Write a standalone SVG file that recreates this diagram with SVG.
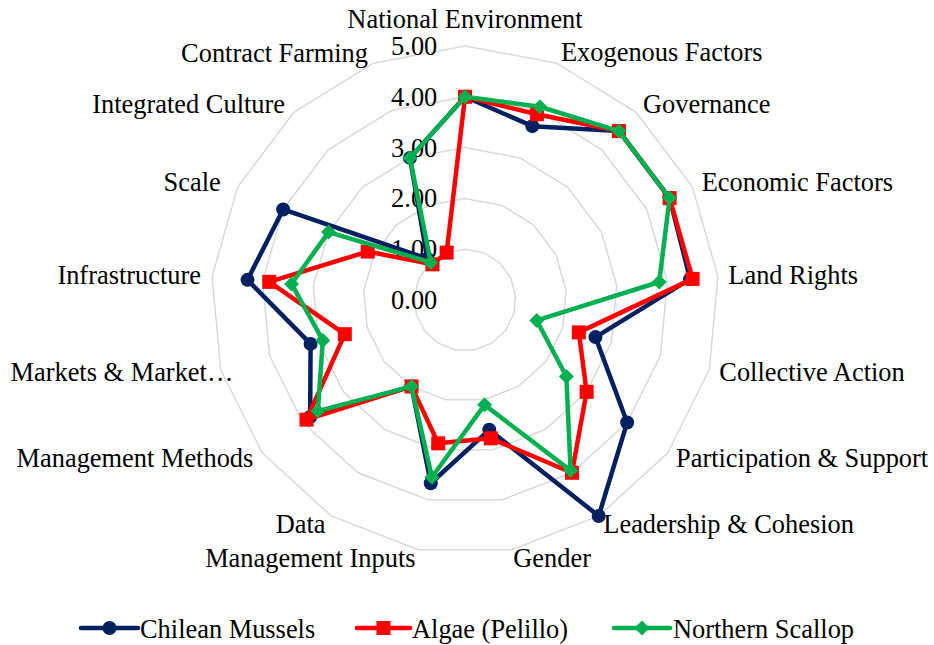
<svg xmlns="http://www.w3.org/2000/svg" xmlns:xlink="http://www.w3.org/1999/xlink" width="934" height="645" viewBox="0 0 934 645">
<style>
text{font-family:"Liberation Serif","Times New Roman",serif;font-size:26.4px;fill:#000}
.grid{fill:none;stroke:#d9d9d9;stroke-width:1.5}
.ser{fill:none;stroke-width:4.5;stroke-linejoin:round;stroke-linecap:round}
.s{text-anchor:start}.e{text-anchor:end}.m{text-anchor:middle}
</style>
<defs>
<marker id="mN" markerUnits="userSpaceOnUse" markerWidth="16" markerHeight="16" refX="8" refY="8" overflow="visible"><circle cx="8" cy="8" r="7" fill="#002060"/></marker>
<marker id="mR" markerUnits="userSpaceOnUse" markerWidth="16" markerHeight="16" refX="8" refY="8" overflow="visible"><rect x="1" y="1" width="14" height="14" fill="#ff0000"/></marker>
<marker id="mG" markerUnits="userSpaceOnUse" markerWidth="16" markerHeight="16" refX="8" refY="8" overflow="visible"><polygon points="8,0.5 15.5,8 8,15.5 0.5,8" fill="#00b050"/></marker>
</defs>
<rect width="934" height="645" fill="#fff"/>
<g id="gridlines" transform="translate(465,300)">
<polygon class="grid" points="0,-50.8 18.35,-47.37 34.22,-37.54 45.47,-22.64 50.58,-4.69 48.86,13.9 40.54,30.61 26.74,43.19 9.33,49.93 -9.33,49.93 -26.74,43.19 -40.54,30.61 -48.86,13.9 -50.58,-4.69 -45.47,-22.64 -34.22,-37.54 -18.35,-47.37"/>
<polygon class="grid" points="0,-101.6 36.7,-94.74 68.44,-75.08 90.94,-45.28 101.16,-9.38 97.72,27.8 81.08,61.22 53.48,86.38 18.66,99.86 -18.66,99.86 -53.48,86.38 -81.08,61.22 -97.72,27.8 -101.16,-9.38 -90.94,-45.28 -68.44,-75.08 -36.7,-94.74"/>
<polygon class="grid" points="0,-152.4 55.05,-142.11 102.66,-112.62 136.41,-67.92 151.74,-14.07 146.58,41.7 121.62,91.83 80.22,129.57 27.99,149.79 -27.99,149.79 -80.22,129.57 -121.62,91.83 -146.58,41.7 -151.74,-14.07 -136.41,-67.92 -102.66,-112.62 -55.05,-142.11"/>
<polygon class="grid" points="0,-203.2 73.4,-189.48 136.88,-150.16 181.88,-90.56 202.32,-18.76 195.44,55.6 162.16,122.44 106.96,172.76 37.32,199.72 -37.32,199.72 -106.96,172.76 -162.16,122.44 -195.44,55.6 -202.32,-18.76 -181.88,-90.56 -136.88,-150.16 -73.4,-189.48"/>
<polygon class="grid" points="0,-254 91.75,-236.85 171.1,-187.7 227.35,-113.2 252.9,-23.45 244.3,69.5 202.7,153.05 133.7,215.95 46.65,249.65 -46.65,249.65 -133.7,215.95 -202.7,153.05 -244.3,69.5 -252.9,-23.45 -227.35,-113.2 -171.1,-187.7 -91.75,-236.85"/>
</g>
<g id="value-axis-labels" class="e">
<text class="e" x="437.3" y="54.5">5.00</text>
<text class="e" x="437.3" y="105.5">4.00</text>
<text class="e" x="437.3" y="156.5">3.00</text>
<text class="e" x="437.3" y="207">2.00</text>
<text class="e" x="437.3" y="258">1.00</text>
<text class="e" x="437.3" y="308.5">0.00</text>
</g>
<g id="category-labels">
<text id="lbl-national-environment" class="m" x="465" y="28.3">National Environment</text>
<text id="lbl-exogenous-factors" class="s" x="561" y="61.3">Exogenous Factors</text>
<text id="lbl-governance" class="s" x="643" y="112.7">Governance</text>
<text id="lbl-economic-factors" class="s" x="701.7" y="190.7">Economic Factors</text>
<text id="lbl-land-rights" class="s" x="728.3" y="283.5">Land Rights</text>
<text id="lbl-collective-action" class="s" x="719.3" y="380.7">Collective Action</text>
<text id="lbl-participation-support" class="s" x="676" y="467.3">Participation &amp; Support</text>
<text id="lbl-leadership-cohesion" class="s" x="603.3" y="532.7">Leadership &amp; Cohesion</text>
<text id="lbl-gender" class="s" x="513.3" y="566.7">Gender</text>
<text id="lbl-management-inputs" class="e" x="415.5" y="566.7">Management Inputs</text>
<text id="lbl-data" class="e" x="325.5" y="532.7">Data</text>
<text id="lbl-management-methods" class="e" x="253.3" y="467.3">Management Methods</text>
<text id="lbl-markets" class="e" x="233.3" y="380.7">Markets &amp; Market…</text>
<text id="lbl-infrastructure" class="e" x="201" y="284">Infrastructure</text>
<text id="lbl-scale" class="e" x="220.7" y="190.7">Scale</text>
<text id="lbl-integrated-culture" class="e" x="285" y="112.7">Integrated Culture</text>
<text id="lbl-contract-farming" class="e" x="368" y="61.5">Contract Farming</text>
</g>
<g id="series" transform="translate(465,300)">
<polygon id="series-chilean-mussels" class="ser" stroke="#002060" marker-start="url(#mN)" marker-mid="url(#mN)" points="0,-203.2 67.34,-173.85 153.99,-168.93 204.62,-101.88 225.08,-20.87 130.46,37.11 162.16,122.44 133.7,215.95 24.26,129.82 -34.24,183.24 -53.48,86.38 -154.86,116.93 -154.4,43.92 -217.49,-20.17 -181.88,-90.56 -37.64,-41.29 -55.05,-142.11"/>
<polygon id="series-algae-pelillo" class="ser" stroke="#ff0000" marker-start="url(#mR)" marker-mid="url(#mR)" points="0,-203.2 71.93,-185.69 153.99,-168.93 204.62,-101.88 227.61,-21.11 113.84,32.39 121.62,91.83 106.96,172.76 25.84,138.31 -26.78,143.3 -53.48,86.38 -158.51,119.69 -120.2,34.19 -195.74,-18.15 -97.31,-48.45 -32.51,-35.66 -18.35,-47.37"/>
<polygon id="series-northern-scallop" class="ser" stroke="#00b050" marker-start="url(#mG)" marker-mid="url(#mG)" points="0,-203.2 74.87,-193.27 153.99,-168.93 204.62,-101.88 194.23,-18.01 71.82,20.43 101.35,76.53 105.62,170.6 19.59,104.85 -33.12,177.25 -53.48,86.38 -147.16,111.11 -142.18,40.45 -173.49,-16.09 -136.41,-67.92 -34.22,-37.54 -55.05,-142.11"/>
</g>
<g id="legend">
<g id="legend-chilean-mussels">
<line class="ser" x1="81" y1="628" x2="138" y2="628" stroke="#002060"/>
<circle cx="109.5" cy="628" r="7" fill="#002060"/>
<text class="s" x="140" y="638">Chilean Mussels</text>
</g>
<g id="legend-algae-pelillo">
<line class="ser" x1="357" y1="628" x2="410" y2="628" stroke="#ff0000"/>
<rect x="376.5" y="621" width="14" height="14" fill="#ff0000"/>
<text class="s" x="412" y="638">Algae (Pelillo)</text>
</g>
<g id="legend-northern-scallop">
<line class="ser" x1="614" y1="628" x2="670" y2="628" stroke="#00b050"/>
<polygon points="642,620.5 649.5,628 642,635.5 634.5,628" fill="#00b050"/>
<text class="s" x="673" y="638">Northern Scallop</text>
</g>
</g>
</svg>
